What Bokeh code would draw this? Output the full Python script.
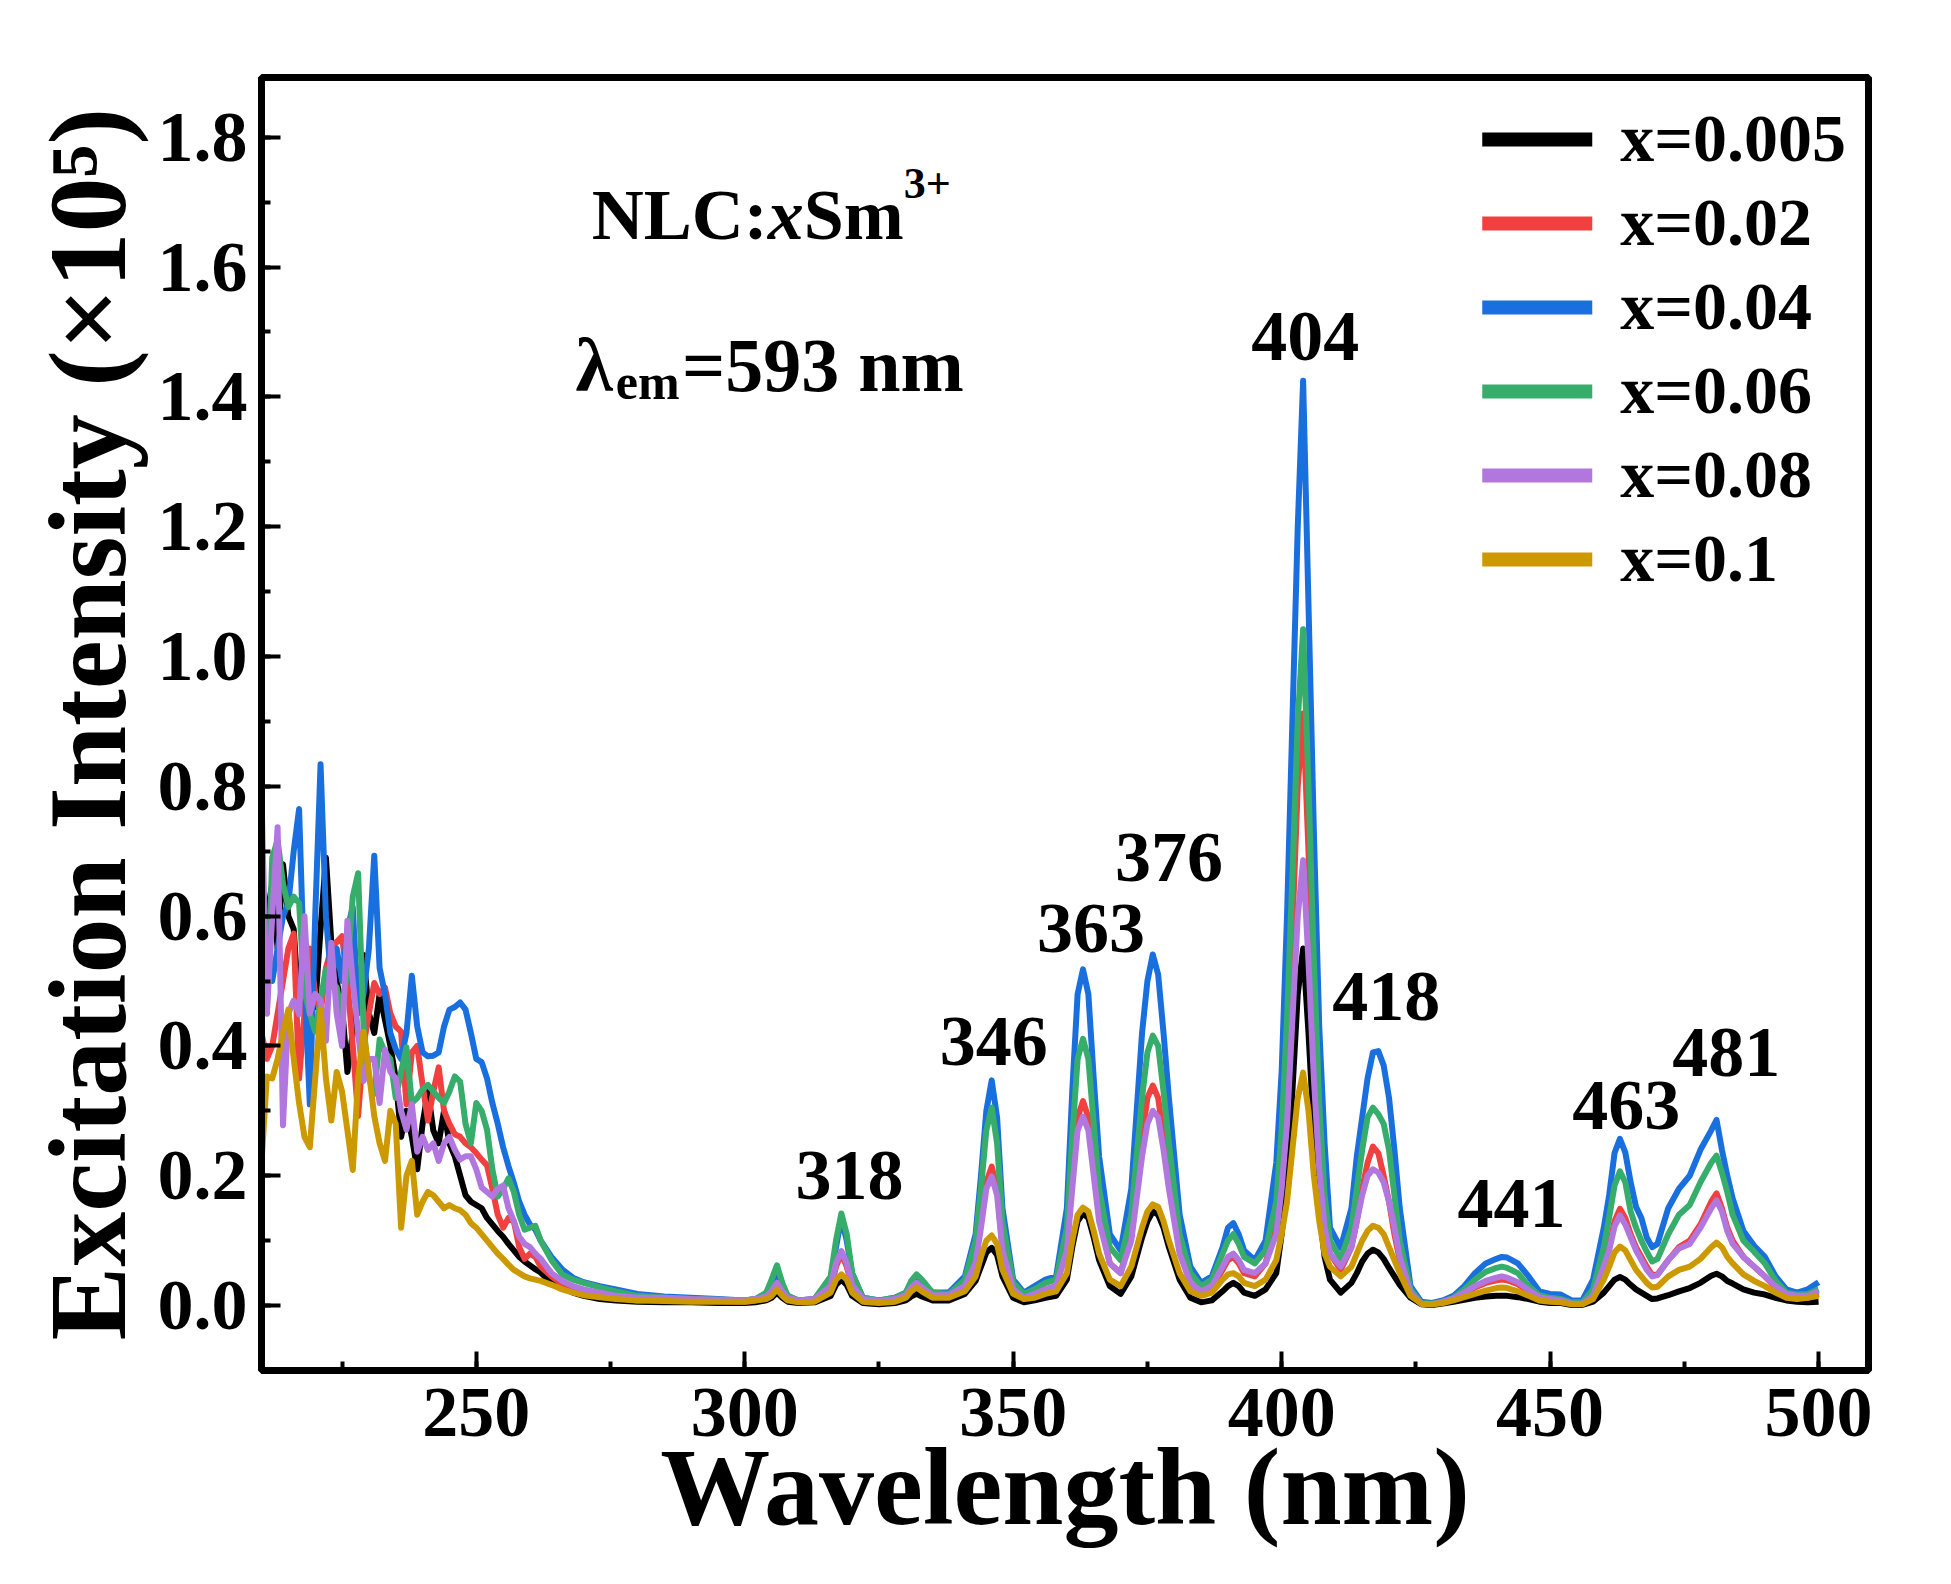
from bokeh.plotting import figure
from bokeh.models import (Range1d, SingleIntervalTicker, PrintfTickFormatter, Legend,
                          LegendItem, Label, ColumnDataSource)
from bokeh.core.properties import value
from bokeh.embed import file_html
from bokeh.resources import INLINE

# ---------------- data ----------------
wavelength = [
    210, 211, 212, 213, 214, 215, 216, 217, 218, 219,
    220, 221, 222, 223, 224, 225, 226, 227, 228, 229,
    230, 231, 232, 233, 234, 235, 236, 237, 238, 239,
    240, 241, 242, 243, 244, 245, 246, 247, 248, 249,
    250, 251, 252, 253, 254, 255, 256, 257, 258, 259,
    260, 261, 262, 264, 266, 268, 270, 273, 276, 280,
    285, 290, 295, 300, 302, 304, 305, 306, 307, 308,
    310, 313, 316, 317, 318, 319, 320, 322, 325, 328,
    330, 331, 332, 333, 335, 338, 341, 343, 344, 345,
    346, 347, 348, 350, 352, 354, 356, 358, 360, 361,
    362, 363, 364, 365, 366, 368, 370, 372, 374, 375,
    376, 377, 378, 379, 381, 383, 385, 387, 389, 390,
    391, 392, 393, 395, 397, 399, 400, 401, 402, 403,
    404, 405, 406, 407, 408, 409, 411, 413, 414, 415,
    416, 417, 418, 419, 420, 421, 422, 424, 426, 428,
    430, 432, 434, 436, 438, 440, 441, 442, 444, 446,
    448, 450, 452, 454, 456, 458, 460, 461, 462, 463,
    464, 465, 466, 467, 468, 469, 470, 472, 474, 476,
    478, 480, 481, 482, 483, 484, 486, 488, 490, 492,
    494, 496, 498, 500,
]

int_x0005 = [
    0.45, 0.60, 0.65, 0.55, 0.68, 0.60, 0.58, 0.45, 0.54, 0.50,
    0.46, 0.58, 0.69, 0.56, 0.50, 0.46, 0.36, 0.42, 0.49, 0.54,
    0.45, 0.42, 0.48, 0.44, 0.40, 0.35, 0.26, 0.30, 0.26, 0.21,
    0.28, 0.33, 0.27, 0.25, 0.30, 0.25, 0.23, 0.20, 0.17, 0.16,
    0.155, 0.15, 0.135, 0.125, 0.115, 0.106, 0.095, 0.085, 0.075, 0.068,
    0.062, 0.056, 0.051, 0.035, 0.028, 0.02, 0.015, 0.01, 0.008, 0.006,
    0.005, 0.005, 0.004, 0.004, 0.005, 0.008, 0.012, 0.02, 0.012, 0.006,
    0.004, 0.005, 0.015, 0.032, 0.04, 0.032, 0.015, 0.004, 0.002, 0.004,
    0.008, 0.014, 0.018, 0.014, 0.008, 0.008, 0.018, 0.038, 0.06, 0.082,
    0.089, 0.078, 0.045, 0.012, 0.005, 0.008, 0.012, 0.015, 0.04, 0.09,
    0.13, 0.142, 0.135, 0.105, 0.07, 0.03, 0.018, 0.045, 0.105, 0.13,
    0.145, 0.14, 0.12, 0.09, 0.04, 0.012, 0.005, 0.008, 0.022, 0.03,
    0.035, 0.03, 0.02, 0.015, 0.025, 0.05, 0.11, 0.19, 0.33, 0.48,
    0.55, 0.42, 0.27, 0.15, 0.075, 0.04, 0.02, 0.035, 0.05, 0.068,
    0.08, 0.086, 0.082, 0.072, 0.058, 0.045, 0.032, 0.012, 0.002, 0.001,
    0.003, 0.006, 0.009, 0.012, 0.014, 0.015, 0.015, 0.015, 0.013, 0.01,
    0.006, 0.004, 0.004, 0.001, 0.001, 0.006, 0.02, 0.03, 0.04, 0.044,
    0.04, 0.032, 0.025, 0.02, 0.015, 0.01, 0.011, 0.016, 0.022, 0.027,
    0.035, 0.046, 0.049, 0.045, 0.038, 0.034, 0.025, 0.02, 0.017, 0.012,
    0.008, 0.006, 0.005, 0.006,
]

int_x002 = [
    0.42, 0.38, 0.40, 0.45, 0.50, 0.55, 0.573, 0.35, 0.45, 0.55,
    0.48, 0.45, 0.52, 0.55, 0.56, 0.569, 0.50, 0.40, 0.292, 0.40,
    0.45, 0.497, 0.48, 0.49, 0.45, 0.43, 0.422, 0.31, 0.39, 0.40,
    0.34, 0.285, 0.33, 0.367, 0.30, 0.28, 0.264, 0.26, 0.25, 0.244,
    0.235, 0.225, 0.216, 0.18, 0.14, 0.12, 0.135, 0.13, 0.09, 0.072,
    0.08, 0.075, 0.06, 0.045, 0.033, 0.028, 0.022, 0.018, 0.012, 0.008,
    0.01, 0.008, 0.007, 0.006, 0.008, 0.012, 0.02, 0.03, 0.02, 0.01,
    0.006, 0.008, 0.025, 0.06, 0.08, 0.06, 0.03, 0.008, 0.005, 0.008,
    0.015, 0.028, 0.035, 0.028, 0.015, 0.015, 0.03, 0.07, 0.13, 0.19,
    0.214, 0.18, 0.09, 0.025, 0.012, 0.018, 0.025, 0.03, 0.09, 0.2,
    0.29, 0.315, 0.29, 0.21, 0.14, 0.065, 0.05, 0.11, 0.26, 0.32,
    0.339, 0.32, 0.26, 0.19, 0.085, 0.035, 0.02, 0.028, 0.055, 0.07,
    0.075, 0.065, 0.05, 0.045, 0.065, 0.13, 0.23, 0.37, 0.58, 0.8,
    0.912, 0.7, 0.46, 0.27, 0.14, 0.08, 0.055, 0.09, 0.13, 0.18,
    0.22, 0.245, 0.235, 0.2, 0.16, 0.11, 0.07, 0.02, 0.003, 0.002,
    0.005, 0.01, 0.018, 0.028, 0.035, 0.039, 0.04, 0.039, 0.033, 0.022,
    0.012, 0.008, 0.007, 0.003, 0.003, 0.015, 0.065, 0.09, 0.13, 0.149,
    0.135, 0.11, 0.09, 0.075, 0.06, 0.047, 0.048, 0.07, 0.09, 0.1,
    0.125, 0.16, 0.173, 0.15, 0.12, 0.1, 0.075, 0.06, 0.045, 0.028,
    0.015, 0.012, 0.012, 0.018,
]

int_x004 = [
    0.45, 0.56, 0.50, 0.55, 0.60, 0.62, 0.70, 0.765, 0.50, 0.31,
    0.60, 0.834, 0.60, 0.50, 0.55, 0.50, 0.58, 0.614, 0.45, 0.48,
    0.55, 0.693, 0.52, 0.48, 0.42, 0.395, 0.38, 0.42, 0.508, 0.43,
    0.39, 0.384, 0.385, 0.39, 0.43, 0.456, 0.46, 0.467, 0.456, 0.42,
    0.38, 0.375, 0.35, 0.312, 0.28, 0.244, 0.215, 0.189, 0.16, 0.14,
    0.125, 0.117, 0.10, 0.075, 0.056, 0.043, 0.036, 0.03, 0.025, 0.018,
    0.014, 0.012, 0.01, 0.008, 0.01, 0.015, 0.03, 0.055, 0.03, 0.015,
    0.008, 0.01, 0.04, 0.09, 0.135, 0.1, 0.05, 0.012, 0.008, 0.012,
    0.02, 0.035, 0.045, 0.035, 0.02, 0.02, 0.045, 0.11, 0.2, 0.3,
    0.347, 0.29, 0.15, 0.04, 0.02, 0.03, 0.04, 0.045, 0.15, 0.33,
    0.48, 0.518, 0.48, 0.35, 0.23, 0.11, 0.085, 0.18, 0.42, 0.5,
    0.541, 0.51, 0.42, 0.32, 0.14, 0.06, 0.035, 0.045, 0.09, 0.12,
    0.127, 0.11, 0.085, 0.07, 0.1, 0.22, 0.36, 0.6, 0.9, 1.2,
    1.425, 1.08, 0.73, 0.43, 0.25, 0.12, 0.089, 0.15, 0.23, 0.29,
    0.35, 0.39, 0.392, 0.37, 0.32, 0.24, 0.15, 0.03, 0.006, 0.004,
    0.008, 0.015, 0.03, 0.05, 0.065, 0.072, 0.075, 0.074, 0.065, 0.045,
    0.022, 0.018, 0.017, 0.008, 0.008, 0.04, 0.12, 0.17, 0.235, 0.257,
    0.236, 0.19, 0.152, 0.135, 0.105, 0.09, 0.095, 0.15, 0.18, 0.2,
    0.24, 0.27, 0.286, 0.24, 0.2, 0.165, 0.115, 0.092, 0.075, 0.045,
    0.025, 0.02, 0.025, 0.036,
]

int_x006 = [
    0.50, 0.45, 0.69, 0.717, 0.65, 0.614, 0.63, 0.62, 0.484, 0.45,
    0.422, 0.47, 0.518, 0.50, 0.49, 0.45, 0.52, 0.63, 0.666, 0.43,
    0.35, 0.326, 0.41, 0.39, 0.38, 0.32, 0.36, 0.398, 0.312, 0.32,
    0.333, 0.34, 0.33, 0.32, 0.312, 0.33, 0.353, 0.345, 0.28, 0.25,
    0.312, 0.30, 0.271, 0.21, 0.168, 0.18, 0.196, 0.175, 0.14, 0.117,
    0.12, 0.123, 0.10, 0.07, 0.048, 0.04, 0.035, 0.028, 0.022, 0.015,
    0.012, 0.01, 0.009, 0.008, 0.01, 0.02, 0.04, 0.062, 0.035, 0.015,
    0.008, 0.01, 0.045, 0.1, 0.142, 0.11, 0.05, 0.012, 0.008, 0.012,
    0.02, 0.038, 0.048, 0.04, 0.02, 0.018, 0.04, 0.1, 0.18, 0.27,
    0.305, 0.25, 0.13, 0.035, 0.018, 0.025, 0.035, 0.04, 0.12, 0.26,
    0.38, 0.411, 0.38, 0.28, 0.18, 0.09, 0.07, 0.14, 0.32, 0.39,
    0.416, 0.40, 0.33, 0.25, 0.11, 0.05, 0.03, 0.04, 0.08, 0.10,
    0.11, 0.095, 0.075, 0.065, 0.085, 0.16, 0.27, 0.44, 0.66, 0.9,
    1.042, 0.8, 0.53, 0.31, 0.17, 0.1, 0.072, 0.12, 0.18, 0.24,
    0.29, 0.305, 0.295, 0.28, 0.24, 0.17, 0.1, 0.025, 0.004, 0.003,
    0.006, 0.012, 0.025, 0.04, 0.052, 0.058, 0.06, 0.058, 0.05, 0.03,
    0.016, 0.012, 0.01, 0.005, 0.005, 0.025, 0.09, 0.136, 0.185, 0.207,
    0.19, 0.145, 0.12, 0.1, 0.083, 0.068, 0.072, 0.11, 0.14, 0.155,
    0.19, 0.22, 0.231, 0.205, 0.175, 0.14, 0.1, 0.083, 0.065, 0.038,
    0.02, 0.017, 0.018, 0.025,
]

int_x008 = [
    0.785, 0.45, 0.60, 0.737, 0.278, 0.45, 0.47, 0.449, 0.60, 0.45,
    0.48, 0.47, 0.408, 0.559, 0.45, 0.40, 0.593, 0.50, 0.42, 0.346,
    0.38, 0.38, 0.312, 0.394, 0.36, 0.35, 0.30, 0.271, 0.31, 0.237,
    0.26, 0.24, 0.25, 0.223, 0.25, 0.26, 0.24, 0.225, 0.23, 0.23,
    0.21, 0.182, 0.175, 0.168, 0.18, 0.185, 0.15, 0.13, 0.106, 0.095,
    0.09, 0.08, 0.072, 0.05, 0.038, 0.03, 0.025, 0.02, 0.015, 0.012,
    0.012, 0.01, 0.009, 0.008, 0.01, 0.014, 0.022, 0.035, 0.022, 0.012,
    0.008, 0.01, 0.03, 0.065, 0.084, 0.065, 0.032, 0.01, 0.007, 0.01,
    0.016, 0.028, 0.035, 0.028, 0.016, 0.016, 0.03, 0.065, 0.12, 0.18,
    0.199, 0.17, 0.085, 0.025, 0.012, 0.018, 0.025, 0.03, 0.085, 0.18,
    0.27, 0.291, 0.27, 0.2, 0.13, 0.065, 0.05, 0.1, 0.23, 0.28,
    0.30, 0.29, 0.24, 0.18, 0.08, 0.035, 0.022, 0.03, 0.06, 0.075,
    0.08, 0.07, 0.055, 0.05, 0.065, 0.11, 0.18, 0.28, 0.44, 0.6,
    0.686, 0.53, 0.35, 0.21, 0.12, 0.08, 0.06, 0.09, 0.13, 0.17,
    0.2, 0.21, 0.205, 0.19, 0.16, 0.12, 0.075, 0.02, 0.003, 0.002,
    0.006, 0.011, 0.02, 0.03, 0.038, 0.043, 0.045, 0.043, 0.036, 0.024,
    0.013, 0.01, 0.008, 0.003, 0.003, 0.015, 0.06, 0.085, 0.122, 0.139,
    0.125, 0.105, 0.085, 0.07, 0.055, 0.045, 0.047, 0.07, 0.088, 0.095,
    0.12, 0.15, 0.162, 0.145, 0.115, 0.095, 0.075, 0.06, 0.045, 0.03,
    0.018, 0.015, 0.015, 0.022,
]

int_x01 = [
    0.22, 0.353, 0.35, 0.38, 0.42, 0.456, 0.38, 0.312, 0.26, 0.244,
    0.35, 0.456, 0.35, 0.285, 0.36, 0.33, 0.27, 0.209, 0.35, 0.422,
    0.36, 0.292, 0.25, 0.223, 0.30, 0.28, 0.12, 0.20, 0.223, 0.14,
    0.16, 0.175, 0.17, 0.16, 0.15, 0.155, 0.15, 0.147, 0.14, 0.127,
    0.12, 0.11, 0.10, 0.09, 0.08, 0.072, 0.063, 0.055, 0.05, 0.045,
    0.042, 0.04, 0.038, 0.032, 0.025, 0.02, 0.016, 0.013, 0.01, 0.008,
    0.007, 0.006, 0.006, 0.006, 0.008, 0.01, 0.015, 0.025, 0.015, 0.008,
    0.005, 0.006, 0.02, 0.04, 0.048, 0.04, 0.02, 0.006, 0.004, 0.006,
    0.012, 0.022, 0.028, 0.022, 0.012, 0.012, 0.022, 0.045, 0.075, 0.1,
    0.108, 0.095, 0.055, 0.018, 0.01, 0.012, 0.018, 0.022, 0.05, 0.1,
    0.14, 0.151, 0.145, 0.115, 0.08, 0.04, 0.03, 0.06, 0.12, 0.145,
    0.156, 0.152, 0.13, 0.1, 0.05, 0.022, 0.015, 0.02, 0.04, 0.048,
    0.05, 0.045, 0.035, 0.03, 0.04, 0.07, 0.11, 0.16, 0.24, 0.32,
    0.359, 0.3, 0.2, 0.13, 0.08, 0.06, 0.045, 0.06, 0.08, 0.1,
    0.115, 0.123, 0.12, 0.11, 0.09, 0.07, 0.05, 0.015, 0.003, 0.002,
    0.004, 0.008, 0.013, 0.018, 0.023, 0.027, 0.028, 0.027, 0.022, 0.015,
    0.008, 0.006, 0.005, 0.002, 0.002, 0.01, 0.04, 0.06, 0.082, 0.091,
    0.085, 0.07, 0.055, 0.045, 0.035, 0.028, 0.029, 0.045, 0.055, 0.06,
    0.072, 0.09, 0.097, 0.09, 0.075, 0.065, 0.048, 0.038, 0.03, 0.02,
    0.012, 0.01, 0.012, 0.015,
]

series_labels = ["x=0.005", "x=0.02", "x=0.04", "x=0.06", "x=0.08", "x=0.1"]
series_values = [int_x0005, int_x002, int_x004, int_x006, int_x008, int_x01]

peak_texts = ["318", "346", "363", "376", "404", "418", "441", "463", "481"]
# label anchor positions (layout, in data coordinates)
peak_text_x = [319.5, 346.4, 364.5, 379.0, 404.4, 419.5, 442.8, 464.2, 482.8]
peak_text_y = [0.200, 0.407, 0.581, 0.691, 1.493, 0.476, 0.158, 0.308, 0.390]

# ---------------- styling ----------------
colors = ["#000000", "#F14040", "#1A6FDF", "#37AD6B", "#B177DE", "#CC9900"]
FONT = "Liberation Serif"

for vals in series_values:
    if len(vals) != len(wavelength):
        raise ValueError("length mismatch %d vs %d" % (len(vals), len(wavelength)))

p = figure(width=1935, height=1568, output_backend="svg", toolbar_location=None,
           x_range=Range1d(210, 509.3), y_range=Range1d(-0.1, 1.892),
           min_border_left=261, min_border_right=67, min_border_top=77, min_border_bottom=198)
p.background_fill_color = "white"
p.border_fill_color = "white"
p.grid.visible = False
p.outline_line_color = "black"
p.outline_line_width = 7

for vals, col in zip(series_values, colors):
    p.line(wavelength, vals, line_color=col, line_width=6, line_join="round")

# legend swatches (single-point lines: draw nothing in the plot, only the key)
items = []
for lab, col, vals in zip(series_labels, colors, series_values):
    r = p.line(x=wavelength[:1], y=vals[:1], line_color=col, line_width=14, line_cap="round")
    items.append(LegendItem(label=lab, renderers=[r]))
legend = Legend(items=items, location="top_right")
legend.label_text_font = FONT
legend.label_text_font_style = "bold"
legend.label_text_font_size = "68px"
legend.label_text_color = "black"
legend.glyph_width = 110
legend.glyph_height = 40
legend.label_height = 40
legend.label_standoff = 28
legend.spacing = 5
legend.padding = 10
legend.margin = 12
legend.border_line_alpha = 0
legend.background_fill_alpha = 0
p.add_layout(legend, "center")

# axes
xa = p.xaxis[0]
ya = p.yaxis[0]
xa.ticker = SingleIntervalTicker(interval=50, num_minor_ticks=2)
ya.ticker = SingleIntervalTicker(interval=0.2, num_minor_ticks=2)
ya.formatter = PrintfTickFormatter(format="%.1f")
for ax in (xa, ya):
    ax.axis_line_width = 7
    ax.axis_line_color = "black"
    ax.major_tick_in = 19
    ax.major_tick_out = 0
    ax.minor_tick_in = 9
    ax.minor_tick_out = 0
    ax.major_tick_line_width = 4
    ax.minor_tick_line_width = 4
    ax.major_label_text_font = FONT
    ax.major_label_text_font_style = "bold"
    ax.major_label_text_font_size = "72px"
    ax.major_label_text_color = "black"
    ax.axis_label_text_font = FONT
    ax.axis_label_text_font_style = "bold"
    ax.axis_label_text_font_size = "110px"
    ax.axis_label_text_color = "black"
xa.axis_label = "Wavelength (nm)"
ya.axis_label = "Excitation Intensity (\u00d710\u2075)"
xa.major_label_standoff = 18
xa.axis_label_standoff = -13
ya.major_label_standoff = 14
ya.axis_label_standoff = 6

# peak labels
src = ColumnDataSource(dict(x=peak_text_x, y=peak_text_y, t=peak_texts))
p.text(x="x", y="y", text="t", source=src, text_font=value(FONT), text_font_style="bold",
       text_font_size="72px", text_align="center", text_baseline="middle", text_color="black")

# annotations: NLC:xSm3+  and  lambda_em=593 nm
def lab(x, y, t, size, style="bold"):
    p.add_layout(Label(x=x, y=y, text=t, text_font=FONT, text_font_style=style,
                       text_font_size=size, text_align="left", text_baseline="alphabetic",
                       text_color="black"))

lab(271.5, 1.6795, "NLC:", "72px")
lab(304.3, 1.6795, "x", "72px", "bold italic")
lab(311.0, 1.6795, "Sm", "72px")
lab(329.6, 1.7288, "3+", "44px")
lab(268.5, 1.4484, "\u03bb", "76px")
lab(276.0, 1.4222, "em", "50px")
lab(288.3, 1.4484, "=593 nm", "76px")

open("out.html", "w").write(file_html(p, INLINE))
